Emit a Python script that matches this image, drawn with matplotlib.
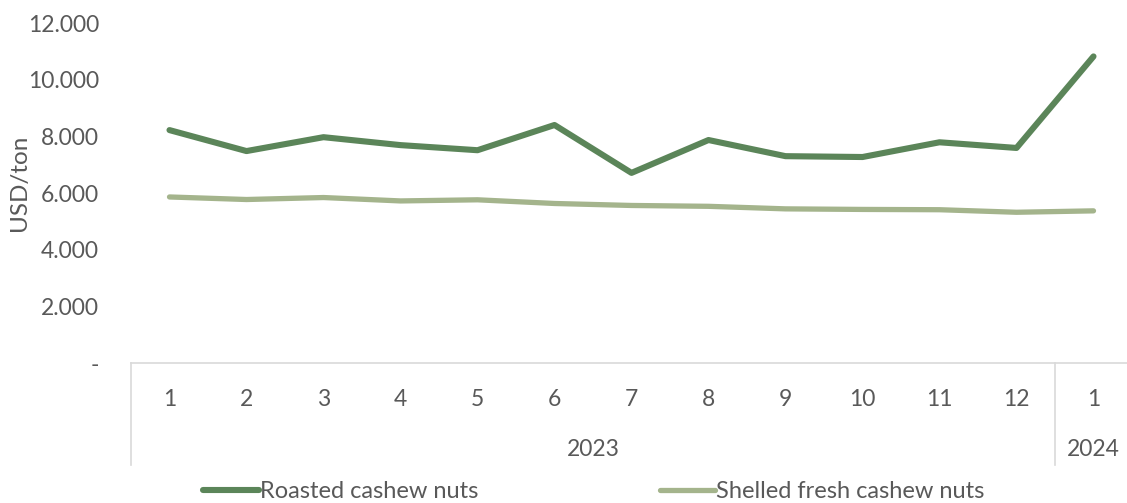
import matplotlib
matplotlib.use("Agg")
import matplotlib.pyplot as plt
from matplotlib.ticker import FuncFormatter
import matplotlib.transforms as mtransforms

months = ["1", "2", "3", "4", "5", "6", "7", "8", "9", "10", "11", "12", "1"]
years = ["2023", "2024"]
year_spans = [(0, 11), (12, 12)]
roasted = [8220, 7480, 7970, 7690, 7510, 8400, 6710, 7870, 7300, 7270, 7790, 7590, 10820]
shelled = [5860, 5770, 5840, 5720, 5760, 5630, 5560, 5530, 5440, 5420, 5410, 5320, 5370]

plt.rcParams['font.family'] = ['Lato', 'DejaVu Sans']
text_color = "#595959"
grid_color = "#D9D9D9"

fig = plt.figure(figsize=(11.27, 5.03), dpi=100)
ax = fig.add_axes([131 / 1127, 1 - 363 / 503, 1001 / 1127, 340 / 503])

x = list(range(len(months)))
ax.plot(x, roasted, color="#5B8559", lw=4.4, solid_capstyle="round", solid_joinstyle="round",
        label="Roasted cashew nuts")
ax.plot(x, shelled, color="#A4B48C", lw=3.8, solid_capstyle="round", solid_joinstyle="round",
        label="Shelled fresh cashew nuts")

ax.set_xlim(-0.5, len(months) - 0.5)
ax.set_ylim(0, 12000)
ax.set_yticks(range(0, 12001, 2000))
ax.yaxis.set_major_formatter(FuncFormatter(lambda v, p: "-" if v == 0 else f"{int(v):,}".replace(",", ".")))
ax.tick_params(axis="y", length=0, pad=23, labelsize=16.5, labelcolor=text_color)
ax.set_xticks(x)
ax.set_xticklabels(months)
ax.tick_params(axis="x", length=0, pad=19, labelsize=16.5, labelcolor=text_color)

for s in ["top", "right", "left"]:
    ax.spines[s].set_visible(False)
ax.spines["bottom"].set_color(grid_color)
ax.spines["bottom"].set_linewidth(1.2)

ax.set_ylabel("USD/ton", fontsize=17.5, color=text_color, labelpad=0)
ax.yaxis.set_label_coords(-101 / 1001, 0.53)

# category separators and year labels
trans = mtransforms.blended_transform_factory(ax.transData, ax.transAxes)
axis_h = 340
for pos in [-0.5, 11.5, 12.5]:
    ax.plot([pos, pos], [0, -102 / axis_h], transform=trans, color=grid_color, lw=1.2, clip_on=False)
for label, (a, b) in zip(years, year_spans):
    ax.text((a + b) / 2, -87 / axis_h, label, transform=trans, ha="center", va="center",
            fontsize=16.5, color=text_color)

fig.legend(loc="center", bbox_to_anchor=(594 / 1127, 1 - 492 / 503), ncol=2, frameon=False,
           fontsize=17, handlelength=2.35, handletextpad=0.05, columnspacing=7.67,
           labelcolor=text_color)

fig.savefig("out.png", dpi=100)
